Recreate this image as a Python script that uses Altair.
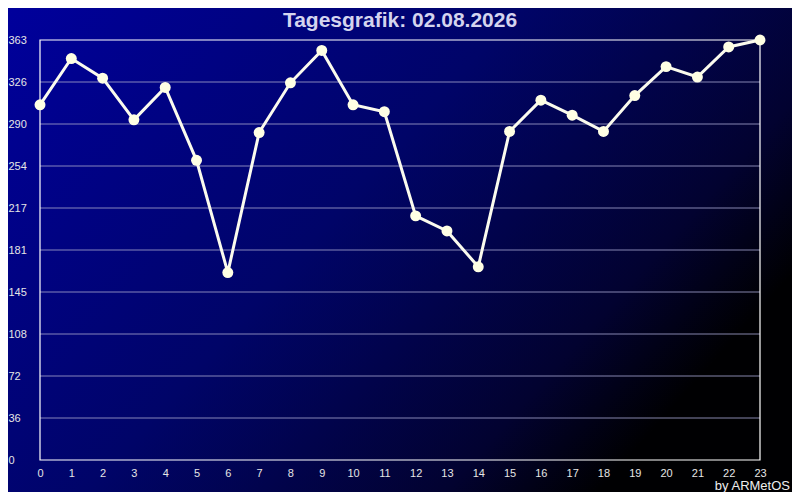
import altair as alt
import pandas as pd

hours = list(range(24))
values = [307, 347, 330, 294, 322, 259, 162, 283, 326, 354, 307, 301,
          211, 198, 167, 284, 311, 298, 284, 315, 340, 331, 357, 363]
y_max = 363
y_ticks = [round(y_max * i / 10, 1) for i in range(11)]
title_text = "Tagesgrafik: 02.08.2026"
credit_text = "by ARMetOS"

W, H = 720, 420
PAD = 32
FONT = "Liberation Sans"

df = pd.DataFrame({"hour": hours, "value": values})
grid_df = pd.DataFrame({"v": y_ticks[1:-1]})
one = pd.DataFrame({"a": [0]})

xscale = alt.Scale(domain=[0, 23], nice=False, zero=False)
yscale = alt.Scale(domain=[0, y_max], nice=False)

x_axis = alt.Axis(values=hours, format="d", title=None, grid=False, domain=False,
                  ticks=False, labelPadding=7, labelColor="#e6e6e6", labelFontSize=11,
                  labelFont=FONT, zindex=1, labelFlush=False, labelOverlap=False)
y_axis = alt.Axis(values=y_ticks, labelExpr="floor(datum.value)", title=None, grid=False,
                  domain=False, ticks=False, labelPadding=32, labelAlign="left",
                  labelBaseline="middle", labelColor="#e6e6e6", labelFontSize=11,
                  labelFont=FONT, zindex=1, labelOverlap=False)

bg = alt.Chart(one).mark_rect(
    color=alt.LinearGradient(
        gradient="linear", x1=0, y1=0, x2=1, y2=0.55,
        stops=[alt.GradientStop(color="#00009c", offset=0),
               alt.GradientStop(color="#000468", offset=0.5),
               alt.GradientStop(color="#020230", offset=0.85),
               alt.GradientStop(color="#000002", offset=1)]),
).encode(x=alt.value(-PAD), x2=alt.value(W + PAD), y=alt.value(-PAD), y2=alt.value(H + PAD))

grid = alt.Chart(grid_df).mark_rule(color="#9c9cc8", strokeWidth=1, opacity=0.85).encode(
    y=alt.Y("v:Q", scale=yscale, axis=y_axis), x=alt.value(0), x2=alt.value(W))

frame = alt.Chart(one).mark_rect(fillOpacity=0, stroke="#ffffff", strokeWidth=1.2).encode(
    x=alt.value(0), x2=alt.value(W), y=alt.value(0), y2=alt.value(H))

line = alt.Chart(df).mark_line(color="#fbfbee", strokeWidth=3).encode(
    x=alt.X("hour:Q", scale=xscale, axis=x_axis),
    y=alt.Y("value:Q", scale=yscale, axis=y_axis),
)

points = alt.Chart(df).mark_point(filled=True, color="#ffffe4", size=120, opacity=1).encode(
    x=alt.X("hour:Q", scale=xscale, axis=x_axis),
    y=alt.Y("value:Q", scale=yscale, axis=y_axis))

title = alt.Chart(pd.DataFrame({"t": [title_text]})).mark_text(
    font=FONT, fontSize=21, fontWeight="bold", color="#d4d4ee", baseline="middle", align="center"
).encode(text="t:N", x=alt.value(W / 2), y=alt.value(-19))

credit = alt.Chart(pd.DataFrame({"t": [credit_text]})).mark_text(
    font=FONT, fontSize=13, color="#eeeeee", baseline="middle", align="right"
).encode(text="t:N", x=alt.value(750), y=alt.value(446))

chart = alt.layer(bg, grid, frame, line, points, title, credit).properties(
    width=W, height=H,
    autosize=alt.AutoSizeParams(type="none"),
    padding={"left": PAD, "top": PAD, "right": PAD, "bottom": PAD},
).configure_view(stroke=None).configure(background="#000040")

chart.save("out.html", embed_options={"renderer": "svg", "actions": False})
